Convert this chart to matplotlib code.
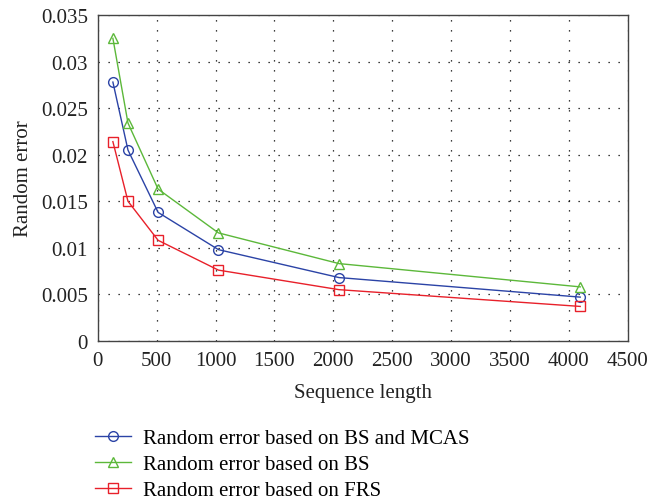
import matplotlib
matplotlib.use("Agg")
import matplotlib.pyplot as plt

plt.rcParams['font.family'] = ['Liberation Serif', 'DejaVu Serif']

seq_len = [128, 256, 512, 1024, 2048, 4096]
err_bs_mcas = [0.0278, 0.0205, 0.0138, 0.0098, 0.0068, 0.0047]
err_bs = [0.0325, 0.0234, 0.0163, 0.0116, 0.0083, 0.0058]
err_frs = [0.0214, 0.0150, 0.0108, 0.0076, 0.0055, 0.0037]
labels = ["Random error based on BS and MCAS",
          "Random error based on BS",
          "Random error based on FRS"]
x_ticks = [0, 500, 1000, 1500, 2000, 2500, 3000, 3500, 4000, 4500]
y_ticks = [0, 0.005, 0.01, 0.015, 0.02, 0.025, 0.03, 0.035]
y_tick_labels = ["0", "0.005", "0.01", "0.015", "0.02", "0.025", "0.03", "0.035"]

fig = plt.figure(figsize=(6.7, 5.02), dpi=100)
ax = fig.add_axes([0.146, 0.319, 0.791, 0.649])

kw = dict(lw=1.0, markersize=7, markerfacecolor='none', markeredgewidth=1.0)
ax.plot(seq_len, err_bs_mcas, '-o', color='#2b43a6', label=labels[0], **kw)
ax.plot(seq_len, err_bs, '-^', color='#5cb83a', label=labels[1], **kw)
ax.plot(seq_len, err_frs, '-s', color='#e8202a', label=labels[2], **kw)

ax.set_xlim(0, 4500)
ax.set_ylim(0, 0.035)
ax.set_xticks(x_ticks)
ax.set_xticklabels([str(t) for t in x_ticks])
ax.set_yticks(y_ticks)
ax.set_yticklabels(y_tick_labels)
ax.tick_params(direction='in', length=0, labelsize=15, colors='#222222', pad=7)
ax.grid(True, color='black', linestyle=(0, (1, 7)), linewidth=0.9)
for s in ax.spines.values():
    s.set_color('#444444')
    s.set_linewidth(1.0)

ax.set_xlabel("Sequence length", fontsize=15, color='#222222', labelpad=10)
ax.set_ylabel("Random error", fontsize=15, color='#222222', labelpad=6)

fig.legend(loc='upper left', bbox_to_anchor=(0.142, 0.144), frameon=False,
           fontsize=15, handlelength=1.7, labelspacing=0.3, borderaxespad=0,
           borderpad=0, handletextpad=0.6)
fig.savefig("out.png", dpi=100)
